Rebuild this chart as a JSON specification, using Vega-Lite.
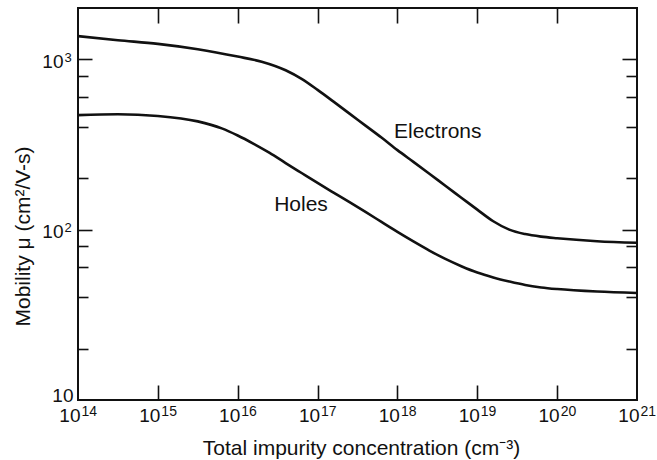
{
  "$schema": "https://vega.github.io/schema/vega-lite/v6.json",
  "width": 559,
  "height": 392,
  "autosize": {"type": "none"},
  "padding": {"left": 78, "top": 8, "right": 20, "bottom": 60},
  "background": "white",
  "config": {
    "view": {"stroke": "#111", "strokeWidth": 2},
    "font": "Liberation Sans",
    "axis": {
      "domain": false,
      "grid": false,
      "tickColor": "#111",
      "tickWidth": 1.6,
      "labelColor": "#111",
      "titleColor": "#111",
      "labelFont": "Liberation Sans",
      "titleFont": "Liberation Sans",
      "titleFontWeight": "normal",
      "labelFlush": false,
      "labelOverlap": false,
      "labelBound": false
    }
  },
  "datasets": {
    "curves": [
      {"carrier": "Electrons", "N": 1e14, "mu": 1368},
      {"carrier": "Electrons", "N": 3.162e14, "mu": 1294},
      {"carrier": "Electrons", "N": 1e15, "mu": 1231},
      {"carrier": "Electrons", "N": 3.162e15, "mu": 1145},
      {"carrier": "Electrons", "N": 1e16, "mu": 1037},
      {"carrier": "Electrons", "N": 1.995e16, "mu": 968},
      {"carrier": "Electrons", "N": 3.981e16, "mu": 862},
      {"carrier": "Electrons", "N": 6.31e16, "mu": 767},
      {"carrier": "Electrons", "N": 1e17, "mu": 661},
      {"carrier": "Electrons", "N": 1.585e17, "mu": 564},
      {"carrier": "Electrons", "N": 2.512e17, "mu": 480},
      {"carrier": "Electrons", "N": 3.981e17, "mu": 408},
      {"carrier": "Electrons", "N": 6.31e17, "mu": 347},
      {"carrier": "Electrons", "N": 1e18, "mu": 293},
      {"carrier": "Electrons", "N": 1.585e18, "mu": 250},
      {"carrier": "Electrons", "N": 2.512e18, "mu": 213},
      {"carrier": "Electrons", "N": 3.981e18, "mu": 181},
      {"carrier": "Electrons", "N": 6.31e18, "mu": 154},
      {"carrier": "Electrons", "N": 1e19, "mu": 131},
      {"carrier": "Electrons", "N": 1.585e19, "mu": 112},
      {"carrier": "Electrons", "N": 2.512e19, "mu": 100},
      {"carrier": "Electrons", "N": 3.981e19, "mu": 94.2},
      {"carrier": "Electrons", "N": 6.31e19, "mu": 91},
      {"carrier": "Electrons", "N": 1e20, "mu": 89},
      {"carrier": "Electrons", "N": 3.162e20, "mu": 85.5},
      {"carrier": "Electrons", "N": 1e21, "mu": 83.7},
      {"carrier": "Holes", "N": 1e14, "mu": 470},
      {"carrier": "Holes", "N": 3.162e14, "mu": 476},
      {"carrier": "Holes", "N": 1e15, "mu": 465},
      {"carrier": "Holes", "N": 3.162e15, "mu": 432},
      {"carrier": "Holes", "N": 6.31e15, "mu": 393},
      {"carrier": "Holes", "N": 1e16, "mu": 357},
      {"carrier": "Holes", "N": 1.585e16, "mu": 319},
      {"carrier": "Holes", "N": 2.512e16, "mu": 282},
      {"carrier": "Holes", "N": 3.981e16, "mu": 246},
      {"carrier": "Holes", "N": 6.31e16, "mu": 215},
      {"carrier": "Holes", "N": 1e17, "mu": 188},
      {"carrier": "Holes", "N": 1.585e17, "mu": 165},
      {"carrier": "Holes", "N": 2.512e17, "mu": 145},
      {"carrier": "Holes", "N": 3.981e17, "mu": 127},
      {"carrier": "Holes", "N": 6.31e17, "mu": 111},
      {"carrier": "Holes", "N": 1e18, "mu": 97},
      {"carrier": "Holes", "N": 1.585e18, "mu": 85.3},
      {"carrier": "Holes", "N": 2.512e18, "mu": 75.4},
      {"carrier": "Holes", "N": 3.981e18, "mu": 67.3},
      {"carrier": "Holes", "N": 6.31e18, "mu": 61},
      {"carrier": "Holes", "N": 1e19, "mu": 56},
      {"carrier": "Holes", "N": 1.585e19, "mu": 52.4},
      {"carrier": "Holes", "N": 2.512e19, "mu": 49.6},
      {"carrier": "Holes", "N": 3.981e19, "mu": 47.3},
      {"carrier": "Holes", "N": 6.31e19, "mu": 45.8},
      {"carrier": "Holes", "N": 1e20, "mu": 44.8},
      {"carrier": "Holes", "N": 3.162e20, "mu": 43.3},
      {"carrier": "Holes", "N": 1e21, "mu": 42.5}
    ],
    "labels": [
      {"label": "Electrons", "N": 3.2e18, "mu": 375},
      {"label": "Holes", "N": 6.2e16, "mu": 139}
    ]
  },
  "resolve": {"axis": {"x": "independent", "y": "independent"}},
  "layer": [
    {
      "data": {"name": "curves"},
      "transform": [{"filter": "datum.carrier == 'Electrons'"}],
      "mark": {"type": "line", "color": "#111", "strokeWidth": 2.6, "interpolate": "monotone", "clip": true},
      "encoding": {
        "x": {
          "field": "N", "type": "quantitative",
          "scale": {"type": "log", "domain": [1e14, 1e21], "nice": false},
          "axis": {
            "orient": "bottom",
            "values": [1e14, 1e15, 1e16, 1e17, 1e18, 1e19, 1e20, 1e21],
            "ticks": false,
            "labelPadding": 21.5,
            "labelAlign": "right",
            "labelOffset": 2,
            "labelBaseline": "alphabetic",
            "labelFontSize": 19,
            "labelExpr": "'10'",
            "title": "Total impurity concentration (cm⁻³)",
            "titleFontSize": 21,
            "titleX": 283,
            "titleY": 54,
            "titleAlign": "center",
            "titleBaseline": "alphabetic"
          }
        },
        "y": {
          "field": "mu", "type": "quantitative",
          "scale": {"type": "log", "domain": [10, 2000], "nice": false},
          "axis": {
            "orient": "left",
            "values": [10, 100, 1000],
            "ticks": false,
            "labelPadding": {"condition": {"test": "datum.value == 10", "value": 5}, "value": 15},
            "labelOffset": {"condition": {"test": "datum.value == 10", "value": 1}, "value": 8},
            "labelAlign": "right",
            "labelBaseline": "alphabetic",
            "labelFontSize": 19,
            "labelExpr": "'10'",
            "title": "Mobility μ (cm²/V-s)",
            "titleFontSize": 21,
            "titleX": -49,
            "titleY": 228,
            "titleAlign": "center",
            "titleBaseline": "alphabetic"
          }
        }
      }
    },
    {
      "data": {"name": "curves"},
      "transform": [{"filter": "datum.carrier == 'Holes'"}],
      "mark": {"type": "line", "color": "#111", "strokeWidth": 2.6, "interpolate": "monotone", "clip": true},
      "encoding": {
        "x": {
          "field": "N", "type": "quantitative",
          "scale": {"type": "log", "domain": [1e14, 1e21], "nice": false},
          "axis": {
            "orient": "top",
            "values": [1e15, 1e16, 1e17, 1e18, 1e19, 1e20],
            "tickSize": -15,
            "labels": false,
            "title": null
          }
        },
        "y": {
          "field": "mu", "type": "quantitative",
          "scale": {"type": "log", "domain": [10, 2000], "nice": false},
          "axis": {
            "orient": "left",
            "values": [100, 1000],
            "ticks": false,
            "labelPadding": 14,
            "labelOffset": 2,
            "labelAlign": "left",
            "labelBaseline": "alphabetic",
            "labelFontSize": 13,
            "labelExpr": "datum.value == 100 ? '2' : '3'",
            "title": null
          }
        }
      }
    },
    {
      "data": {"name": "labels"},
      "transform": [{"filter": "datum.label == 'Electrons'"}],
      "mark": {"type": "text", "color": "#111", "fontSize": 21, "font": "Liberation Sans", "align": "center", "baseline": "middle"},
      "encoding": {
        "x": {
          "field": "N", "type": "quantitative",
          "scale": {"type": "log", "domain": [1e14, 1e21], "nice": false},
          "axis": {
            "orient": "bottom",
            "values": [1e14, 1e15, 1e16, 1e17, 1e18, 1e19, 1e20, 1e21],
            "ticks": false,
            "labelPadding": 15,
            "labelAlign": "left",
            "labelOffset": 3,
            "labelBaseline": "alphabetic",
            "labelFontSize": 14,
            "labelExpr": "'' + round(log(datum.value) / LN10)",
            "title": null
          }
        },
        "y": {
          "field": "mu", "type": "quantitative",
          "scale": {"type": "log", "domain": [10, 2000], "nice": false},
          "axis": {
            "orient": "left",
            "values": [20, 40, 60, 80, 100, 200, 400, 600, 800, 1000],
            "tickSize": {"condition": {"test": "datum.value == 100 || datum.value == 1000", "value": -14}, "value": -10},
            "labels": false,
            "title": null
          }
        },
        "text": {"field": "label"}
      }
    },
    {
      "data": {"name": "labels"},
      "transform": [{"filter": "datum.label == 'Holes'"}],
      "mark": {"type": "text", "color": "#111", "fontSize": 21, "font": "Liberation Sans", "align": "center", "baseline": "middle"},
      "encoding": {
        "x": {
          "field": "N", "type": "quantitative",
          "scale": {"type": "log", "domain": [1e14, 1e21], "nice": false},
          "axis": {
            "orient": "bottom",
            "values": [1e15, 1e16, 1e17, 1e18, 1e19, 1e20],
            "tickSize": -15,
            "labels": false,
            "title": null
          }
        },
        "y": {
          "field": "mu", "type": "quantitative",
          "scale": {"type": "log", "domain": [10, 2000], "nice": false},
          "axis": {
            "orient": "right",
            "values": [20, 40, 60, 80, 100, 200, 400, 600, 800, 1000],
            "tickSize": {"condition": {"test": "datum.value == 100 || datum.value == 1000", "value": -15}, "value": -11},
            "labels": false,
            "title": null
          }
        },
        "text": {"field": "label"}
      }
    }
  ]
}
